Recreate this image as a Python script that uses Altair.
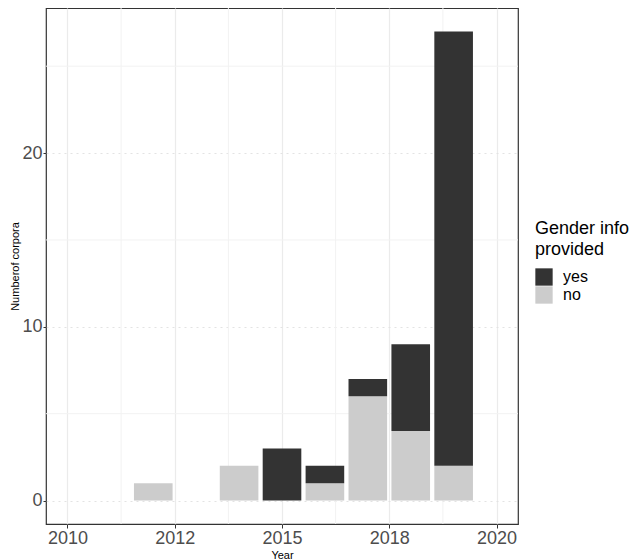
import altair as alt
import pandas as pd

# corpora per year, split by whether gender info is provided
years = [2012, 2014, 2015, 2016, 2017, 2018, 2019]
yes_counts = [0, 0, 3, 1, 1, 5, 25]
no_counts = [1, 2, 0, 1, 6, 4, 2]

groups = ["yes", "no"]
group_colors = ["#333333", "#CCCCCC"]

x_ticks = [2010, 2012.5, 2015, 2017.5, 2020]
x_tick_labels = ["2010", "2012", "2015", "2018", "2020"]
x_minor = [2011.25, 2013.75, 2016.25, 2018.75]
y_ticks = [0, 10, 20]
y_minor = [5, 15, 25]

X_DOMAIN = [2009.5, 2020.5]
Y_DOMAIN = [-1.35, 28.35]
FONT = "Liberation Sans"

rows = []
for yr, y, n in zip(years, yes_counts, no_counts):
    rows.append({"year": yr, "provided": "no", "order": 0, "count": n})
    rows.append({"year": yr, "provided": "yes", "order": 1, "count": y})
df = pd.DataFrame(rows)
df = df[df["count"] > 0]

label_map = "{" + ", ".join(f"'{v}': '{l}'" for v, l in zip(x_ticks, x_tick_labels)) + "}"

x_scale = alt.Scale(domain=X_DOMAIN, nice=False, zero=False)
y_scale = alt.Scale(domain=Y_DOMAIN, nice=False, zero=False)

minor_x = alt.Chart(pd.DataFrame({"v": x_minor})).mark_rule(
    color="#F2F2F2", strokeWidth=1
).encode(x=alt.X("v:Q", scale=x_scale))

minor_y = alt.Chart(pd.DataFrame({"v": y_minor})).mark_rule(
    color="#F2F2F2", strokeWidth=1
).encode(y=alt.Y("v:Q", scale=y_scale))

bars = alt.Chart(df).transform_stack(
    stack="count", as_=["y0", "y1"], groupby=["year"],
    sort=[alt.SortField("order", order="ascending")]
).transform_calculate(
    x0="datum.year - 0.45", x1="datum.year + 0.45"
).mark_bar().encode(
    x=alt.X("x0:Q", scale=x_scale, title="Year",
            axis=alt.Axis(values=x_ticks, labelExpr=f"{label_map}[datum.value + '']",
                          grid=True, gridColor="#EBEBEB", gridWidth=1.2,
                          domain=False, tickSize=4, tickColor="#333333",
                          labelFontSize=18, labelColor="#4D4D4D", labelPadding=1,
                          labelFont=FONT, titleFont=FONT, titleFontSize=11,
                          titleFontWeight="normal", titleColor="#000000",
                          titlePadding=2)),
    x2="x1:Q",
    y=alt.Y("y0:Q", scale=y_scale, title="Numberof corpora",
            axis=alt.Axis(values=y_ticks, grid=True, gridColor="#E3E3E3",
                          gridDash=[2, 4], gridWidth=1,
                          domain=False, tickSize=3, tickColor="#333333",
                          labelFontSize=18, labelColor="#4D4D4D", labelPadding=1,
                          labelFont=FONT, titleFont=FONT, titleFontSize=11,
                          titleFontWeight="normal", titleColor="#000000",
                          titlePadding=1)),
    y2="y1:Q",
    color=alt.Color("provided:N",
                    scale=alt.Scale(domain=groups, range=group_colors),
                    legend=alt.Legend(title=["Gender info", "\u2002provided"],
                                      orient="none", legendX=489, legendY=212,
                                      titleFontSize=18, titleFontWeight="normal",
                                      titleFont=FONT, titleLineHeight=21,
                                      titleColor="#000000", titlePadding=9,
                                      symbolType="square", symbolSize=300,
                                      symbolStrokeWidth=0, symbolOpacity=1,
                                      labelFontSize=16, labelFont=FONT,
                                      labelColor="#000000", labelOffset=10,
                                      rowPadding=0)),
)

chart = alt.layer(minor_x, minor_y, bars).properties(
    width=472, height=516,
    background="white",
    autosize=alt.AutoSizeParams(type="none"),
    padding={"left": 38, "top": 0, "right": 114, "bottom": 36},
).configure_view(stroke="#333333", strokeWidth=1.2)

chart.save("out.html", embed_options={"renderer": "svg", "actions": False})
